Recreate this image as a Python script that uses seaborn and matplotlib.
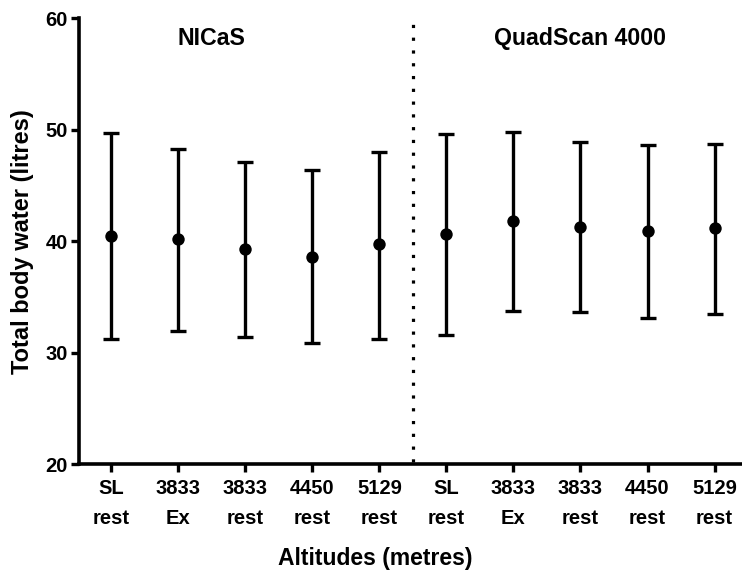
import matplotlib
matplotlib.use("Agg")
import matplotlib.pyplot as plt
import seaborn as sns
import pandas as pd
import numpy as np

# ---- data ----
tick_labels = ["SL\nrest", "3833\nEx", "3833\nrest", "4450\nrest", "5129\nrest",
               "SL\nrest", "3833\nEx", "3833\nrest", "4450\nrest", "5129\nrest"]
groups = ["NICaS"] * 5 + ["QuadScan 4000"] * 5
means = [40.5, 40.2, 39.3, 38.6, 39.7, 40.6, 41.8, 41.3, 40.9, 41.2]
upper = [49.7, 48.3, 47.1, 46.4, 48.0, 49.6, 49.8, 48.9, 48.6, 48.75]
lower = [31.2, 31.9, 31.4, 30.85, 31.2, 31.6, 33.7, 33.6, 33.1, 33.5]
group_titles = ["NICaS", "QuadScan 4000"]
yticks = [20, 30, 40, 50, 60]

df = pd.DataFrame({"pos": np.arange(len(means)), "mean": means,
                   "upper": upper, "lower": lower, "group": groups})

sns.set_theme(style="ticks")
plt.rcParams["font.family"] = ["Liberation Sans", "DejaVu Sans"]
plt.rcParams["font.weight"] = "bold"
plt.rcParams["text.color"] = "black"
plt.rcParams["axes.labelcolor"] = "black"
plt.rcParams["xtick.color"] = "black"
plt.rcParams["ytick.color"] = "black"

fig = plt.figure(figsize=(7.42, 5.73), dpi=100)
ax = fig.add_axes([79 / 742, 1 - 464 / 573, 1 - 79 / 742 + 0.01, (464 - 18.3) / 573])

ax.errorbar(df["pos"], df["mean"],
            yerr=[df["mean"] - df["lower"], df["upper"] - df["mean"]],
            fmt="none", ecolor="black", elinewidth=2.4, capsize=5.5, capthick=2.4, zorder=2)
sns.scatterplot(data=df, x="pos", y="mean", color="black", s=80, edgecolor="black",
                linewidth=0, ax=ax, zorder=3, legend=False)

ax.axvline(4.5, ymin=0.005, ymax=1.0, color="black", linewidth=2.3,
           linestyle=(0, (1, 3.0)), zorder=1)

ax.set_xlim(-0.48, 9.52)
ax.set_ylim(20, 60)
ax.set_yticks(yticks)
ax.set_yticklabels([str(t) for t in yticks], fontsize=14.5, fontweight="bold", color="black")
ax.set_xticks(df["pos"])
ax.set_xticklabels(tick_labels, fontsize=14.5, fontweight="bold", linespacing=1.7, color="black")

ax.text(1.5, 58.2, group_titles[0], ha="center", va="center", fontsize=16.7,
        fontweight="bold", color="black")
ax.text(7.0, 58.2, group_titles[1], ha="center", va="center", fontsize=16.7,
        fontweight="bold", color="black")

ax.set_xlabel("")
ax.set_ylabel("")
fig.text(375 / 742, 1 - 558 / 573, "Altitudes (metres)", ha="center", va="center",
         fontsize=16.5, fontweight="bold", color="black")
fig.text(23 / 742, 1 - 242 / 573, "Total body water (litres)", ha="center", va="center",
         rotation=90, fontsize=17, fontweight="bold", color="black")

for side in ["top", "right"]:
    ax.spines[side].set_visible(False)
for side in ["left", "bottom"]:
    ax.spines[side].set_linewidth(2.6)
    ax.spines[side].set_color("black")
ax.tick_params(axis="both", width=2.4, length=6, color="black", labelcolor="black", pad=2)
ax.tick_params(axis="x", pad=5)

fig.savefig("out.png", dpi=100)
